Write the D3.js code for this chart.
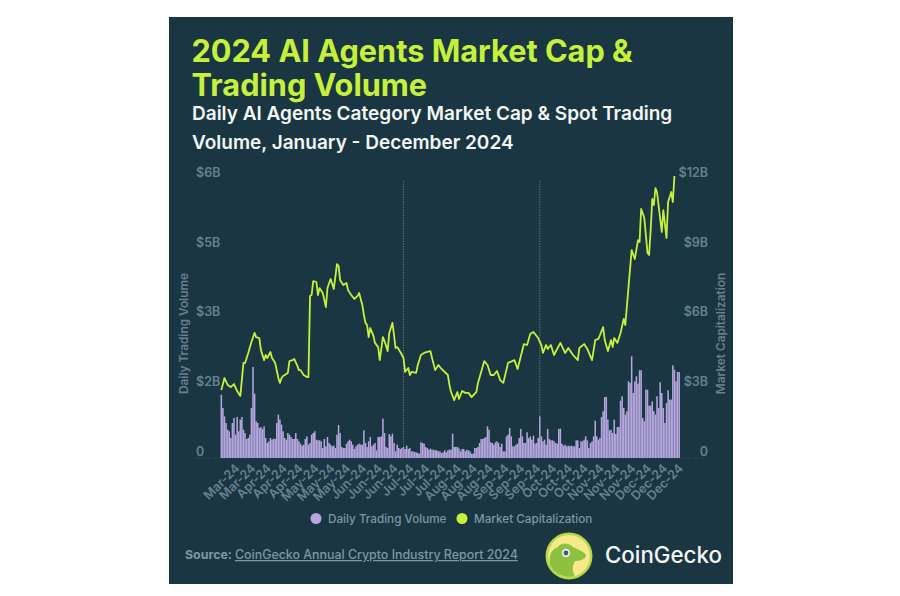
<!DOCTYPE html>
<html><head><meta charset="utf-8">
<script src="https://cdn.jsdelivr.net/npm/d3@7/dist/d3.min.js"></script>
<style>html,body{margin:0;padding:0;background:#fff}svg{display:block}text{font-family:Inter,sans-serif}</style>
</head><body><svg id="c" width="900" height="596"></svg>
<script>
const titleLines = ["2024 AI Agents Market Cap &", "Trading Volume"];
const subtitleLines = ["Daily AI Agents Category Market Cap & Spot Trading", "Volume, January - December 2024"];
const startDate = "2024-03-17";
// daily spot volume, $M, one per day from startDate
const volume = [1360,1076,896,753,609,574,430,753,860,502,882,574,825,882,609,538,409,430,502,1076,1957,1384,789,753,645,667,624,681,430,323,359,430,394,416,409,753,932,825,717,574,430,394,538,502,452,409,409,538,409,359,308,265,287,409,466,287,323,502,538,574,394,380,380,359,215,409,251,452,323,287,251,265,215,502,710,538,237,215,215,308,359,394,359,287,194,251,287,308,287,287,595,323,237,359,452,251,287,323,165,452,452,466,846,538,237,215,516,466,523,323,143,287,215,194,215,237,194,265,194,215,143,143,129,122,108,93,337,323,308,237,215,179,201,179,179,165,165,143,143,108,122,165,122,165,179,179,523,237,237,237,208,143,194,194,143,179,165,143,93,93,215,215,237,323,409,409,430,452,681,609,337,323,287,337,359,323,237,308,143,143,466,502,645,466,251,251,287,308,430,624,466,323,323,552,430,466,394,480,308,323,430,896,466,359,394,287,624,409,380,380,359,323,308,624,631,308,265,287,251,265,251,265,251,251,380,380,215,359,359,394,466,380,215,323,359,466,803,466,394,430,882,1004,1312,1312,825,595,609,538,825,516,667,667,1233,1326,1076,932,1004,1649,1613,2187,1398,1649,1757,1599,1886,1886,860,789,1470,1470,1126,1126,1219,1004,932,1326,1076,1628,1398,1076,753,1183,1456,1255,1255,1993,1900,1649,1850,1850];
// market cap, $B, at the days (counted from startDate) where it could be read
const capDays = [0,2,4,6,8,10,12,14,15,17,19,21,22,24,25,27,28,29,31,32,34,36,37,38,39,42,43,45,46,48,49,50,52,54,55,56,57,58,60,61,62,64,66,67,69,71,73,74,75,77,79,80,82,84,86,87,89,90,91,92,93,94,96,97,99,100,102,103,105,106,108,109,110,111,113,114,115,116,118,119,120,123,124,126,128,130,132,133,135,137,139,143,144,145,147,149,150,151,152,154,156,158,161,162,166,168,170,172,174,176,178,181,185,187,191,193,195,197,200,202,203,205,206,208,210,214,217,219,222,225,226,229,231,234,236,238,241,242,244,246,247,248,250,252,254,255,257,259,261,263,264,265,267,269,270,271,272,273,274,275,278,279,281,282,284,285,286];
const capValues = [2.92,3.44,3.14,3.05,3.18,2.88,2.67,4.09,4.09,4.52,4.99,5.38,5.20,5.16,4.64,4.21,4.43,4.30,4.56,4.30,4.09,3.44,3.23,3.44,3.53,3.66,4.17,4.21,4.26,3.96,3.78,3.78,3.57,3.48,3.48,6.97,7.01,7.61,7.57,7.01,7.31,7.10,6.49,7.31,7.70,7.27,8.34,8.26,7.65,7.44,7.53,7.22,7.01,6.84,6.97,7.10,6.58,6.15,5.81,5.72,5.20,5.59,5.25,4.95,4.77,4.21,5.20,5.03,4.60,5.38,5.81,5.29,4.73,4.77,4.56,4.43,4.30,3.70,3.87,3.57,3.70,3.66,4.00,4.43,4.52,4.56,4.60,4.30,3.78,4.00,3.83,3.57,3.14,2.84,2.49,2.84,2.54,2.71,2.88,2.80,2.80,2.62,2.84,3.23,4.17,4.00,3.57,3.57,3.74,3.35,3.23,4.09,4.21,3.83,4.90,4.86,5.33,5.42,5.16,4.86,4.52,4.86,4.69,4.86,4.43,4.95,4.52,4.73,4.43,4.21,4.73,4.90,4.69,4.21,5.07,5.12,5.63,5.07,4.60,5.07,4.77,5.16,4.95,5.38,5.98,5.72,7.35,8.94,8.56,9.37,9.29,10.71,10.32,8.82,8.73,9.80,11.14,10.88,11.61,11.44,9.72,10.66,9.46,11.01,11.44,11.01,12.13];
const markerDays = [115, 201];
const volTicks = [0,1.5,3,4.5,6];
const volTickLabels = ["0","$2B","$3B","$5B","$6B"];
const capTicks = [0,3,6,9,12];
const capTickLabels = ["0","$3B","$6B","$9B","$12B"];
const tickEvery = 10;
const legendNames = ["Daily Trading Volume","Market Capitalization"];
const sourceLabel = "Source:";
const sourceLink = "CoinGecko Annual Crypto Industry Report 2024";
const brand = "CoinGecko";

const BG="#193642", LIME="#c6f03c", LILAC="#b5a6de", DIM="#67828d";
const svg=d3.select("#c");
svg.append("rect").attr("x",169).attr("y",17).attr("width",564).attr("height",567).attr("fill",BG);

const T=(x,y,s,size,w,fill,anchor)=>svg.append("text").attr("x",x).attr("y",y).text(s)
  .attr("font-size",size).attr("font-weight",w).attr("fill",fill).attr("text-anchor",anchor||"start");
titleLines.forEach((s,i)=>T(191.5,62+i*34,s,30.7,700,LIME));
subtitleLines.forEach((s,i)=>T(192,120+i*29,s,19,600,"#f4f6f7"));

const y0=458, y1=179;
const t0=d3.utcParse("%Y-%m-%d")(startDate);
const fmt=d3.utcFormat("%b-%y");
const dayDate=i=>d3.utcDay.offset(t0,i);
const x=d3.scaleBand().domain(d3.range(volume.length)).range([220.5,680]).padding(0.03);
const xc=i=>x(0)+x.bandwidth()/2+i*x.step();
const yV=d3.scaleLinear().domain([0,6000]).range([y0,y1]);
const yC=d3.scaleLinear().domain([0,12]).range([y0,y1]);

// baseline
svg.append("line").attr("x1",196).attr("x2",708).attr("y1",y0).attr("y2",y0).attr("stroke",DIM).attr("stroke-opacity",.45).attr("stroke-dasharray","1 2");

// bars
svg.append("g").selectAll("rect").data(volume).join("rect")
  .attr("x",(d,i)=>x(i)).attr("width",x.bandwidth()).attr("y",d=>yV(d)).attr("height",d=>y0-yV(d)).attr("fill",LILAC);

// marker lines
svg.append("g").selectAll("line").data(markerDays).join("line")
  .attr("x1",xc).attr("x2",xc).attr("y1",181).attr("y2",y0)
  .attr("stroke","#7d959e").attr("stroke-opacity",.75).attr("stroke-dasharray","1.2 1.4");

// cap line
svg.append("path").datum(capDays.map((d,i)=>[d,capValues[i]]))
  .attr("fill","none").attr("stroke",LIME).attr("stroke-width",1.8).attr("stroke-linejoin","round")
  .attr("d",d3.line().x(d=>xc(d[0])).y(d=>yC(d[1])));

// axes
const yAxisL=d3.axisLeft(yV).tickValues(volTicks.map(d=>d*1000)).tickSize(0).tickFormat((d,i)=>volTickLabels[i]);
const gl=svg.append("g").attr("transform","translate(196,0)").call(yAxisL);
gl.select(".domain").remove();
gl.selectAll("text").attr("x",0).attr("dy","-0.22em").attr("text-anchor","start").attr("fill",DIM).attr("font-size",12.5).attr("font-weight",600).style("font-family","Inter");
const yAxisR=d3.axisRight(yC).tickValues(capTicks).tickSize(0).tickFormat((d,i)=>capTickLabels[i]);
const gr=svg.append("g").attr("transform","translate(708,0)").call(yAxisR);
gr.select(".domain").remove();
gr.selectAll("text").attr("x",0).attr("dy","-0.22em").attr("text-anchor","end").attr("fill",DIM).attr("font-size",12.5).attr("font-weight",600).style("font-family","Inter");

const xAxis=d3.axisBottom(x).tickValues(d3.range(0,volume.length-1,tickEvery)).tickSize(0).tickFormat(i=>fmt(dayDate(i)));
const gx=svg.append("g").attr("transform",`translate(0,${y0})`).call(xAxis);
gx.select(".domain").remove();
gx.selectAll("text").attr("x",0).attr("y",0).attr("dy",0).attr("text-anchor","end")
  .attr("transform","translate(19,11) rotate(-45)").attr("fill",DIM).attr("font-size",12.5).attr("font-weight",600).style("font-family","Inter");

// axis titles
svg.append("text").attr("transform","translate(188,333.5) rotate(-90)").attr("text-anchor","middle").text("Daily Trading Volume").attr("fill",DIM).attr("font-size",11.8).attr("font-weight",600);
svg.append("text").attr("transform","translate(725,333.5) rotate(-90)").attr("text-anchor","middle").text("Market Capitalization").attr("fill",DIM).attr("font-size",11.8).attr("font-weight",600);

// legend
const lg=[{x:316,c:LILAC,t:legendNames[0]},{x:462,c:LIME,t:legendNames[1]}];
lg.forEach(d=>{svg.append("circle").attr("cx",d.x).attr("cy",518.5).attr("r",5.5).attr("fill",d.c);
  T(d.x+12,522.5,d.t,11.7,500,"#7f97a1");});

// source
T(185,559,sourceLabel,12.4,700,"#7f97a1");
T(235,559,sourceLink,12.4,500,"#7f97a1").attr("text-decoration","underline");

// logo
const lo=svg.append("g").attr("transform","translate(569,556)");
lo.append("circle").attr("r",23.5).attr("fill","#b5d847");
lo.append("circle").attr("r",21).attr("fill","#f5e98a");
lo.append("path").attr("d","M-19,9 C-21,-1 -17,-7 -11,-9 C-7,-14 0,-13 4,-9 C9,-6 15,-5 17,-1 C17,3 11,5 6,5 C3,10 3,15 6,20 C-3,23 -15,18 -19,9 Z").attr("fill","#8cc240");
lo.append("circle").attr("cx",-3).attr("cy",-3).attr("r",4.2).attr("fill","#e8eef0");
lo.append("circle").attr("cx",-3).attr("cy",-3).attr("r",2.4).attr("fill","#4a5a6a");
T(605,563,brand,22.3,500,"#f4f6f7");
</script></body></html>
